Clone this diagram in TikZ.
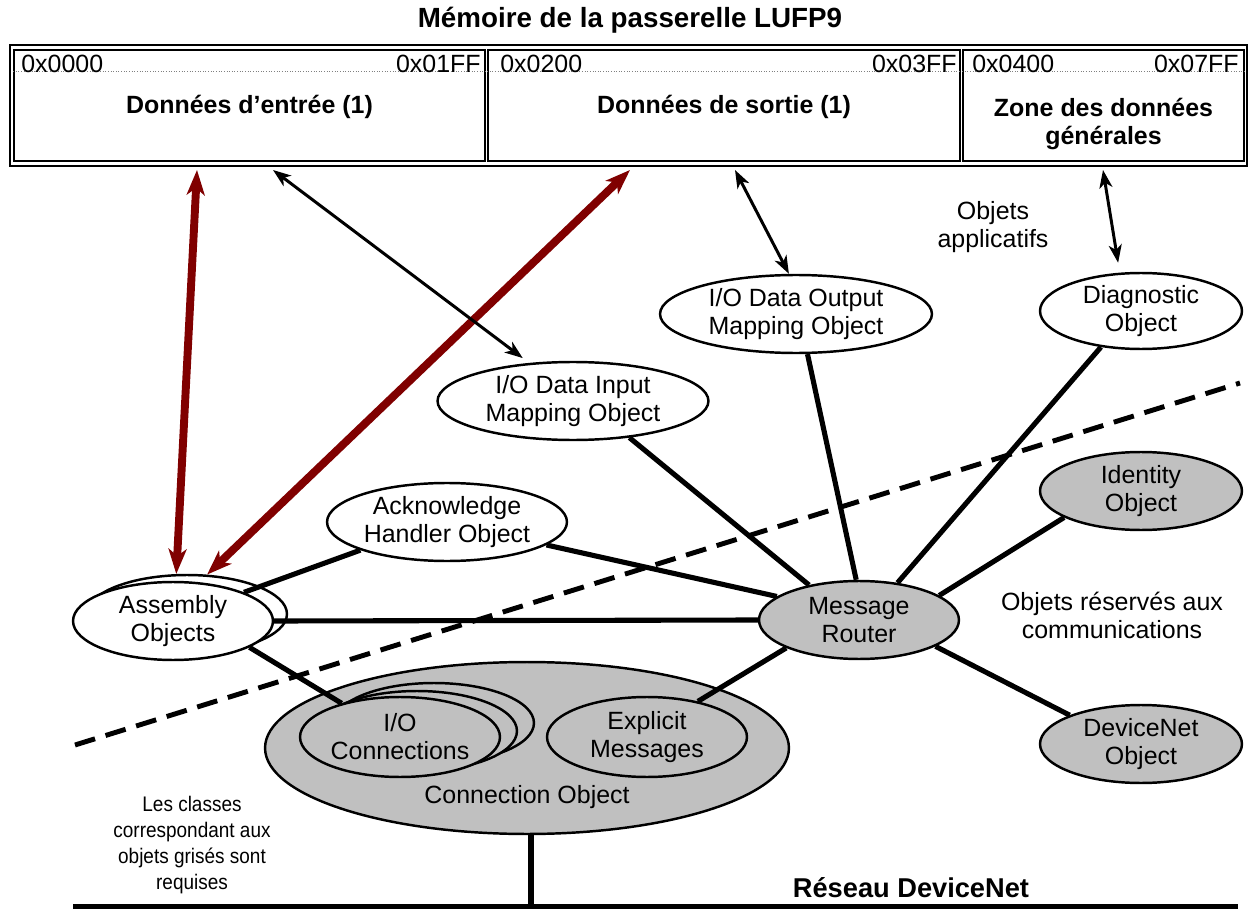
\documentclass[tikz,border=0pt]{standalone}
\usepackage{fontspec}
\setmainfont{Liberation Sans}
\newfontfamily\narrowsans[FakeStretch=0.9]{Liberation Sans}
\usetikzlibrary{positioning,arrows.meta,shapes.geometric}
\definecolor{objgray}{RGB}{192,192,192}
\definecolor{linkred}{RGB}{128,0,0}

\begin{document}
\begin{tikzpicture}[x=0.02cm,y=-0.02cm,font=\fontsize{14.2}{16}\selectfont,
 obj/.style={draw,ellipse,line width=1.4pt,fill=white,align=center,inner sep=0pt,minimum width=4cm,minimum height=1.56cm},
 req/.style={obj,fill=objgray},
 mem/.style={draw,rectangle,line width=1.1pt,minimum height=2.22cm,inner sep=0pt},
 hex/.style={inner sep=0pt},
 ttl/.style={align=center,font=\fontsize{14.2}{16}\selectfont\bfseries},
 rowline/.style={draw=gray,densely dotted,line width=0.5pt},
 link/.style={line width=2.9pt},
 bus/.style={line width=2.9pt},
 cut/.style={line width=2.8pt,dash pattern=on 0.42cm off 0.22cm},
 notetxt/.style={align=center,font=\narrowsans\fontsize{12}{14.8}\selectfont},
 redarr/.style={line width=4.5pt,draw=linkred,arrows={Stealth[length=5mm,width=3.6mm,inset=1.4mm]-Stealth[length=5mm,width=3.6mm,inset=1.4mm]}},
 blkarr/.style={line width=1.7pt,arrows={Stealth[length=3.6mm,width=2.6mm,inset=1mm]-Stealth[length=3.6mm,width=2.6mm,inset=1mm]}}]
\useasboundingbox (0,0) rectangle (1249,909);

% memory map of the gateway
\node[font=\fontsize{15.8}{18}\selectfont\bfseries] (memtitle) at (630,20) {Mémoire de la passerelle LUFP9};
\node[draw,line width=1.4pt,minimum width=24.74cm,minimum height=2.42cm] (memmap) at (628.5,105.5) {};
\node[mem,minimum width=9.42cm] (inbox) at (249.5,105.5) {};
\node[mem,minimum width=9.44cm] (outbox) at (724,105.5) {};
\node[mem,minimum width=5.62cm] (genbox) at (1103.5,105.5) {};
\foreach \b in {inbox,outbox,genbox}
  \draw[rowline] ([yshift=-0.44cm]\b.north west) -- ([yshift=-0.44cm]\b.north east);
\node[hex,anchor=west] (inlo) at (21,64) {0x0000};
\node[hex,anchor=east] (inhi) at (481,64) {0x01FF};
\node[hex,anchor=west] (outlo) at (500,64) {0x0200};
\node[hex,anchor=east] (outhi) at (957,64) {0x03FF};
\node[hex,anchor=west] (genlo) at (972,64) {0x0400};
\node[hex,anchor=east] (genhi) at (1239,64) {0x07FF};
\node[ttl] (intxt) at (249.5,107) {Données d’entrée (1)};
\node[ttl] (outtxt) at (724,107) {Données de sortie (1)};
\node[ttl] (gentxt) at (1103.5,124) {Zone des données\\générales};
\coordinate (inA) at (197,170);
\coordinate (inB) at (273,170);
\coordinate (outA) at (630,170);
\coordinate (outB) at (735,170);
\coordinate (genA) at (1103,170);

% application objects
\node[obj,minimum width=5.44cm] (ioout) at (796,314) {I/O Data Output\\Mapping Object};
\node[obj,minimum width=4.04cm,minimum height=1.52cm] (diag) at (1141,311) {Diagnostic\\Object};
\node[obj,minimum width=5.42cm] (ioin) at (573,401) {I/O Data Input\\Mapping Object};
\node[obj,minimum width=4.8cm] (ack) at (447,522) {Acknowledge\\Handler Object};
\node[obj] (asmb) at (187,614) {};
\node[obj] (asm) at (173,621) {Assembly\\Objects};

% communication objects
\node[req,minimum width=4.04cm] (ident) at (1141,491) {Identity\\Object};
\node[req] (mr) at (859,620) {Message\\Router};
\node[req,minimum width=4.04cm] (devnet) at (1141,744) {DeviceNet\\Object};
\node[req,minimum width=10.48cm,minimum height=3.44cm,label={[yshift=-0.98cm]center:Connection Object}] (connob) at (527,748) {};
\node[req,minimum height=1.6cm] (ioconnc) at (434,723) {};
\node[req,minimum height=1.6cm] (ioconnb) at (417,731) {};
\node[req,minimum height=1.6cm] (ioconn) at (400,737) {I/O\\Connections};
\node[req,minimum height=1.6cm] (expl) at (647,737) {Explicit\\Messages};

% labels
\node[align=center] (applbl) at (993,227) {Objets\\applicatifs};
\node[align=center] (comlbl) at (1112,615) {Objets réservés aux\\communications};
\node[notetxt] (notelbl) at (192,845) {Les classes\\correspondant aux\\objets grisés sont\\requises};
\node[font=\fontsize{15.5}{18}\selectfont\bfseries] (netlbl) at (911,888) {Réseau DeviceNet};

% links
\draw[link] (asm.22) -- (ack.198);
\draw[link] (asm.east) -- (mr.west);
\draw[link] (asm.341) -- (ioconn.150);
\draw[link] (ack.347) -- (mr.164);
\draw[link] (ioin.327) -- (mr.145);
\draw[link] (ioout.286) -- (mr.94);
\draw[link] (diag.222) -- (mr.44);
\draw[link] (ident.199) -- (mr.17);
\draw[link] (devnet.158) -- (mr.341);
\draw[link] (mr.201) -- (expl.35);

% network
\coordinate (busL) at (73,907);
\coordinate (busR) at (1238,907);
\coordinate (tap) at (531,907);
\draw[bus] (busL) -- (busR);
\draw[link] (connob.south -| tap) -- (tap);

% boundary
\coordinate (cutL) at (75,745);
\coordinate (cutR) at (1240,383);
\draw[cut] (cutL) -- (cutR);

% data exchange
\draw[redarr] (inA) -- (asmb.105);
\draw[redarr] (outA) -- (asmb.63);
\draw[blkarr,shorten >=0.16cm] (inB) -- (ioin.139);
\draw[blkarr] (outB) -- (ioout.100);
\draw[blkarr,shorten >=0.2cm] (genA) -- (diag.119);
\end{tikzpicture}
\end{document}
